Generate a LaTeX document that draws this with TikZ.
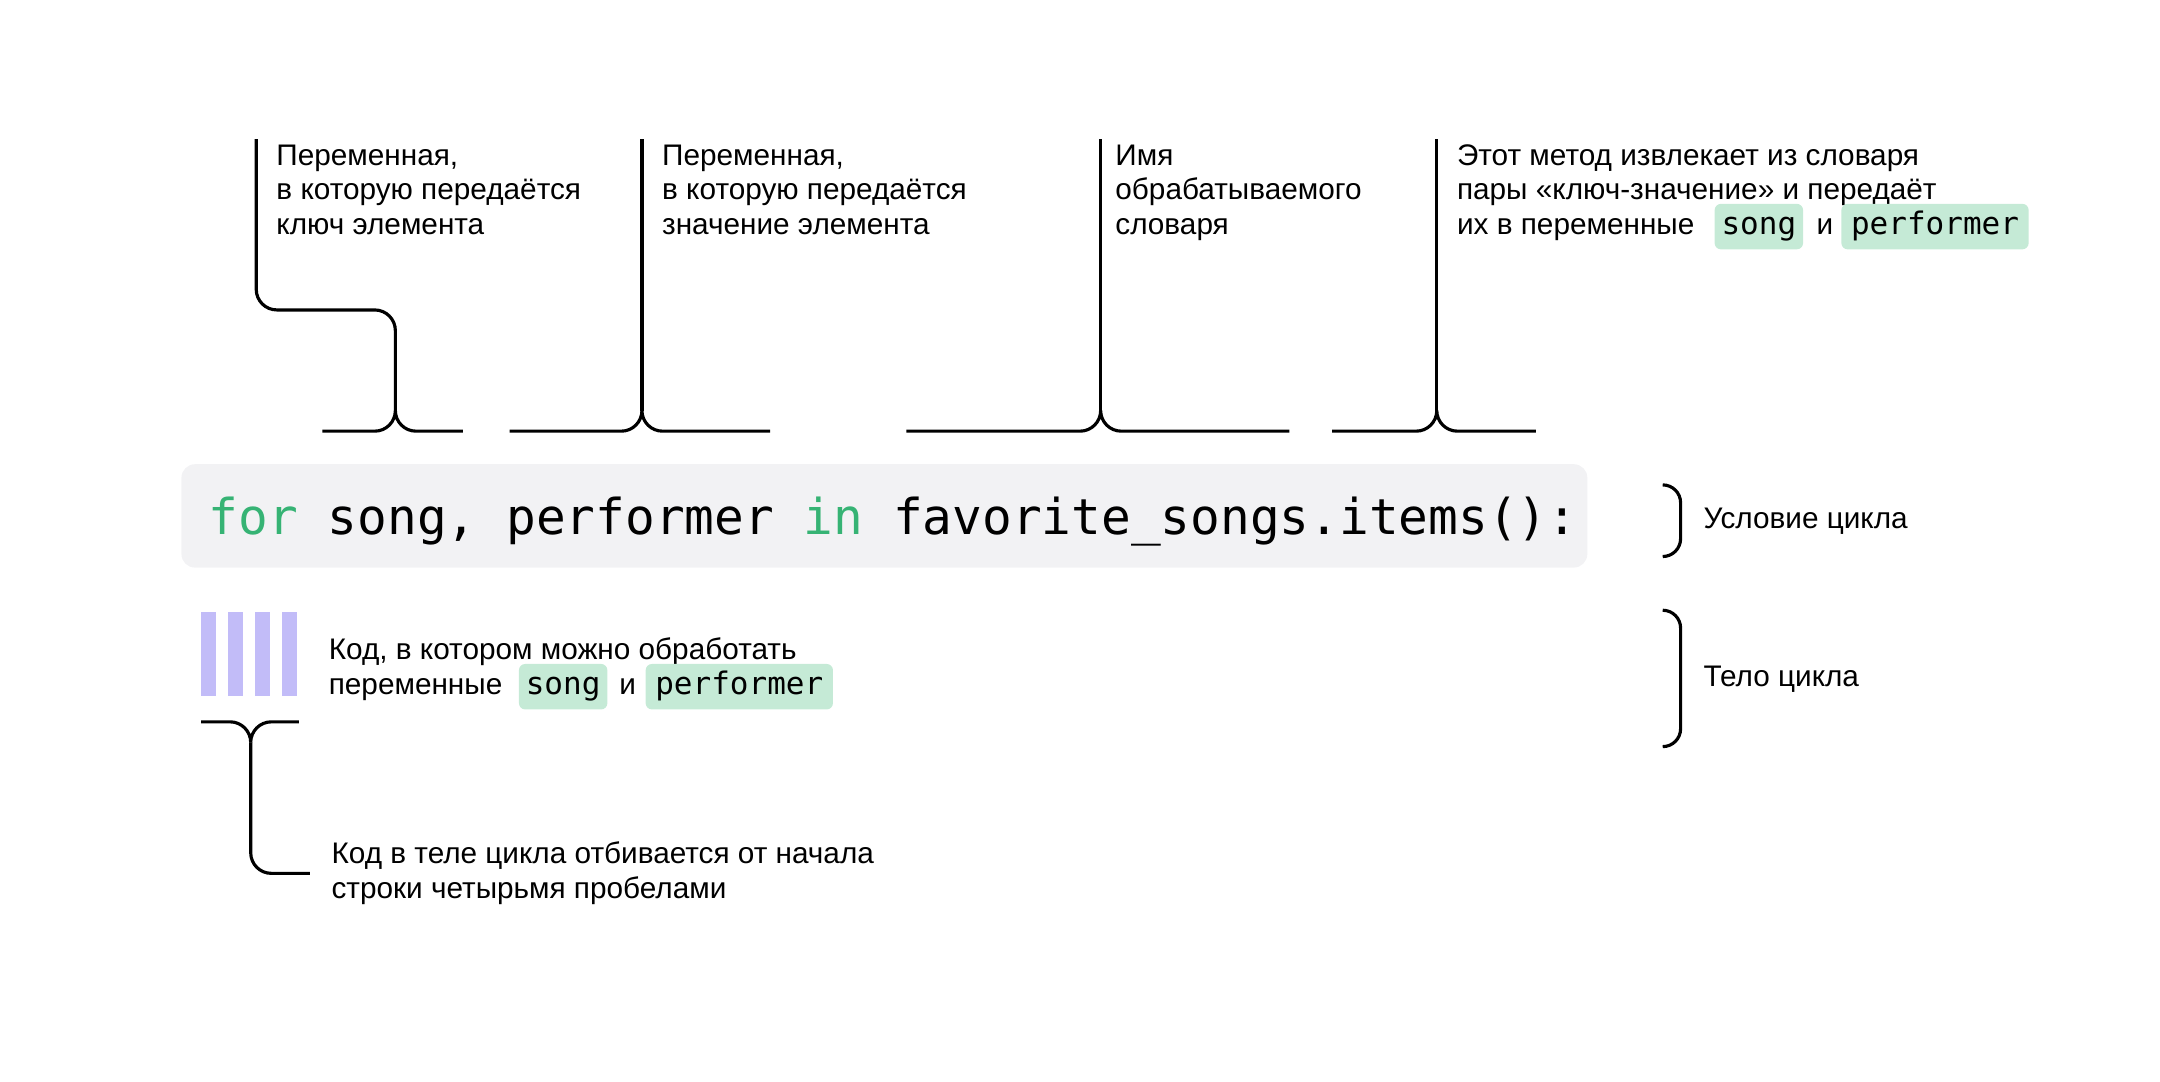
\documentclass[tikz,border=0pt]{standalone}
\usepackage{fontspec}
\setmainfont{Liberation Sans}
\newfontfamily\codefont{DejaVu Sans Mono}
\usetikzlibrary{calc}

\definecolor{codebg}{HTML}{F2F2F4}
\definecolor{kwgreen}{HTML}{36B374}
\definecolor{hlbg}{HTML}{C5EAD6}
\definecolor{indentbar}{HTML}{C2BCF8}

% bracket with a cusp: horizontal from L to R at height Y, stem at V rising to T
\newcommand\cuspbracket[5]{%
  \draw[bracket] (#2,#4) -- ({#1-15},#4)
    .. controls ({#1-6.7},#4) and (#1,{#4-6.7}) .. (#1,{#4-15})
    .. controls (#1,{#4-6.7}) and ({#1+6.7},#4) .. ({#1+15},#4) -- (#3,#4);
  \draw[bracket] (#1,{#4-15}) -- (#1,#5);}

\begin{document}
\begin{tikzpicture}[x=0.01cm,y=-0.01cm,
  note/.style={font=\fontsize{6.14pt}{7.11pt}\selectfont, inner sep=0pt, anchor=base west},
  hl/.style={fill=hlbg, rounded corners=1.3pt, inner xsep=0.07cm, inner ysep=0pt,
    text height=0.22cm, text depth=0.11cm, anchor=base west,
    font=\codefont\fontsize{6.4pt}{7pt}\selectfont},
  hlshort/.style={hl, inner xsep=0.05cm},
  bracket/.style={line width=0.65pt, black},
  bar/.style={fill=indentbar, draw=none}]

\useasboundingbox (0,0) rectangle (1568,785);

% --- code line ---
\node[fill=codebg, rounded corners=2.8pt, minimum width=10.2cm, minimum height=0.75cm,
  inner sep=0pt] (codebox) at (642,374.5) {};
\node[inner sep=0pt, anchor=base west, font=\codefont\fontsize{10.2pt}{12pt}\selectfont]
  (code) at (151,388) {{\color{kwgreen}for} song, performer {\color{kwgreen}in} favorite\_songs.items():};

% --- top annotations ---
\node[note] (t1a) at (200,120) {Переменная,};
\node[note] (t1b) at (200,145) {в которую передаётся};
\node[note] (t1c) at (200,170) {ключ элемента};

\node[note] (t2a) at (480,120) {Переменная,};
\node[note] (t2b) at (480,145) {в которую передаётся};
\node[note] (t2c) at (480,170) {значение элемента};

\node[note] (t3a) at (809,120) {Имя};
\node[note] (t3b) at (809,145) {обрабатываемого};
\node[note] (t3c) at (809,170) {словаря};

\node[note] (t4a) at (1057,120) {Этот метод извлекает из словаря};
\node[note] (t4b) at (1057,145) {пары «ключ-значение» и передаёт};
\node[note] (t4c) at (1057,170) {их в переменные};
\node[hlshort] (t4song) at (1244,170) {song};
\node[note] (t4and) at (1318,170) {и};
\node[hl] (t4perf) at (1336,170) {performer};

% --- brackets above the code ---
\draw[bracket] (287,298) -- (287,240)
  .. controls (287,231.7) and (280.3,225) .. (272,225) -- (201,225)
  .. controls (192.7,225) and (186,218.3) .. (186,210) -- (186,101);
\cuspbracket{287}{234}{336}{313}{240}
\cuspbracket{466}{370}{559}{313}{101}
\cuspbracket{799}{658}{936}{313}{101}
\cuspbracket{1043}{967}{1115}{313}{101}

% --- indentation marks ---
\foreach \i/\bx in {1/146,2/165.5,3/185,4/204.5}
  \fill[bar] (\bx,444) rectangle ++(11,61);

\node[note] (b1a) at (238,479) {Код, в котором можно обработать};
\node[note] (b1b) at (238,504) {переменные};
\node[hlshort] (b1song) at (376,504) {song};
\node[note] (b1and) at (449,504) {и};
\node[hl] (b1perf) at (468,504) {performer};

% --- bracket under the indentation ---
\draw[bracket] (146,524) -- (167,524)
  .. controls (175.3,524) and (182,530.7) .. (182,539)
  .. controls (182,530.7) and (188.7,524) .. (197,524) -- (217,524);
\draw[bracket] (182,539) -- (182,619)
  .. controls (182,627.3) and (188.7,634) .. (197,634) -- (225,634);

\node[note] (b2a) at (240,627) {Код в теле цикла отбивается от начала};
\node[note] (b2b) at (240,652) {строки четырьмя пробелами};

% --- right braces ---
\draw[bracket] (1207,352) .. controls (1214.2,352) and (1220,357.8) .. (1220,365)
  -- (1220,391) .. controls (1220,398.2) and (1214.2,404) .. (1207,404);
\node[note] (cond) at (1236,384) {Условие цикла};

\draw[bracket] (1207,443) .. controls (1214.2,443) and (1220,448.8) .. (1220,456)
  -- (1220,529) .. controls (1220,536.2) and (1214.2,542) .. (1207,542);
\node[note] (body) at (1236,498) {Тело цикла};

\end{tikzpicture}
\end{document}
